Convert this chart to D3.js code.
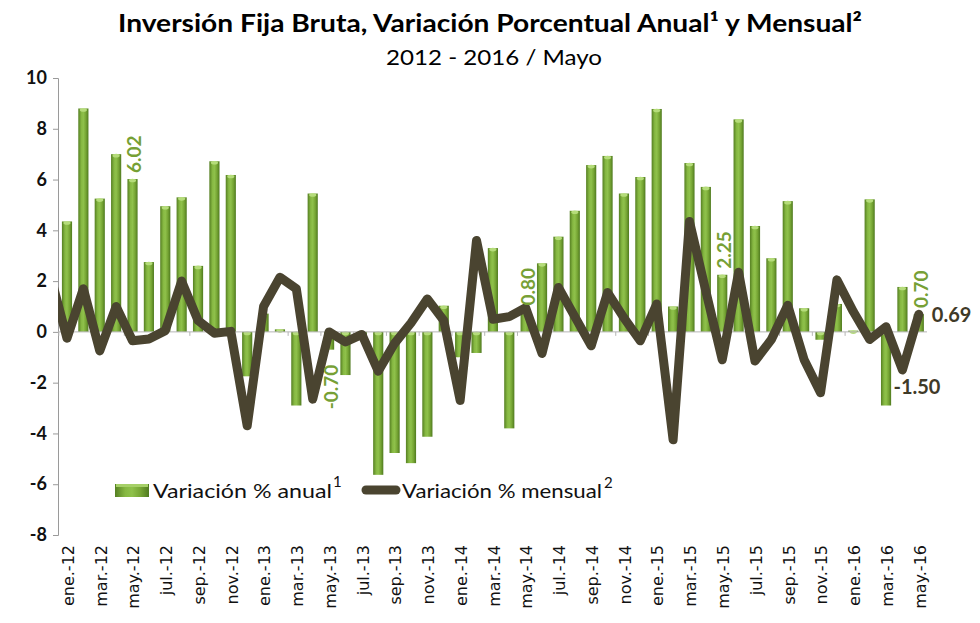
<!DOCTYPE html>
<html>
<head>
<meta charset="utf-8">
<script src="https://cdn.jsdelivr.net/npm/d3@7"></script>
<style>
  body { margin: 0; background: #fff; }
  svg { display: block; }
</style>
</head>
<body>
<svg id="chart"></svg>
<script>
// categorías (mes.-año)
const categorias = [
  "ene.-12","feb.-12","mar.-12","abr.-12","may.-12","jun.-12","jul.-12","ago.-12","sep.-12","oct.-12","nov.-12","dic.-12",
  "ene.-13","feb.-13","mar.-13","abr.-13","may.-13","jun.-13","jul.-13","ago.-13","sep.-13","oct.-13","nov.-13","dic.-13",
  "ene.-14","feb.-14","mar.-14","abr.-14","may.-14","jun.-14","jul.-14","ago.-14","sep.-14","oct.-14","nov.-14","dic.-14",
  "ene.-15","feb.-15","mar.-15","abr.-15","may.-15","jun.-15","jul.-15","ago.-15","sep.-15","oct.-15","nov.-15","dic.-15",
  "ene.-16","feb.-16","mar.-16","abr.-16","may.-16"
];

// variación % anual (barras)
const anual = [
  4.35, 8.80, 5.25, 7.00, 6.02, 2.75, 4.95, 5.30, 2.60, 6.72, 6.18, -1.75,
  0.72, 0.10, -2.90, 5.45, -0.70, -1.70, -0.30, -5.63, -4.77, -5.17, -4.13, 1.03,
  -1.00, -0.83, 3.30, -3.80, 0.80, 2.70, 3.75, 4.77, 6.57, 6.93, 5.45, 6.10,
  8.78, 1.00, 6.65, 5.71, 2.25, 8.37, 4.17, 2.90, 5.15, 0.93, -0.31, 1.10,
  0.05, 5.22, -2.90, 1.77, 0.70
];

// variación % mensual (línea)
const mensual = [
  -0.25, 1.70, -0.75, 1.00, -0.35, -0.28, 0.05, 2.00, 0.45, -0.05, 0.02, -3.70,
  1.00, 2.15, 1.70, -2.65, 0.00, -0.40, -0.10, -1.55, -0.45, 0.35, 1.30, 0.45,
  -2.70, 3.60, 0.50, 0.60, 0.95, -0.85, 1.75, 0.60, -0.55, 1.55, 0.55, -0.35,
  1.10, -4.25, 4.35, 1.60, -1.10, 2.35, -1.15, -0.30, 1.05, -1.10, -2.40, 2.05,
  0.80, -0.30, 0.20, -1.50, 0.69
];
const mensualPrevio = 2.2; // dic.-11, sólo asoma en el borde izquierdo

const yTicks = [-8, -6, -4, -2, 0, 2, 4, 6, 8, 10];
const etiquetasAnual = ["may.-12", "may.-13", "may.-14", "may.-15", "may.-16"];
const etiquetasMensual = ["abr.-16", "may.-16"];

const W = 980, H = 623;
const verde = "#76a035", oscuro = "#4a4430";

const svg = d3.select("#chart").attr("width", W).attr("height", H);
svg.append("rect").attr("width", W).attr("height", H).attr("fill", "#fff");

const x = d3.scaleBand().domain(categorias).range([58.8, 927])
  .paddingInner(0.38).paddingOuter(0.19);
const y = d3.scaleLinear().domain([-8, 10]).range([535, 78]);
const bw = x.bandwidth();
const cx = c => x(c) + bw / 2;

const defs = svg.append("defs");
const grad = defs.append("linearGradient").attr("id", "barra")
  .attr("x1", 0).attr("x2", 1).attr("y1", 0).attr("y2", 0);
[["0%", "#557f22"], ["30%", "#86b842"], ["50%", "#8fc14b"], ["75%", "#76a534"], ["100%", "#4f7a1f"]]
  .forEach(([o, c]) => grad.append("stop").attr("offset", o).attr("stop-color", c));
defs.append("clipPath").attr("id", "plot")
  .append("rect").attr("x", 58).attr("y", 0).attr("width", W - 58).attr("height", H);

// títulos
svg.append("text").attr("x", 490).attr("y", 32).attr("text-anchor", "middle")
  .attr("font-family", "Lato").attr("font-weight", "bold").attr("font-size", 24)
  .attr("textLength", 744).attr("lengthAdjust", "spacingAndGlyphs")
  .text("Inversión Fija Bruta, Variación Porcentual Anual¹ y Mensual²");
svg.append("text").attr("x", 494).attr("y", 65).attr("text-anchor", "middle")
  .attr("font-family", "Lato").attr("font-size", 22)
  .attr("textLength", 216).attr("lengthAdjust", "spacingAndGlyphs")
  .text("2012 - 2016 / Mayo");

// eje y
const gy = svg.append("g").attr("transform", "translate(58,0)")
  .call(d3.axisLeft(y).tickValues(yTicks).tickSize(5).tickPadding(6).tickFormat(d => String(d)));
gy.select(".domain").attr("stroke", "#9a9a9a");
gy.selectAll(".tick line").attr("stroke", "#9a9a9a");
gy.selectAll(".tick text").attr("font-family", "Lato").attr("font-weight", "bold")
  .attr("font-size", 18).attr("fill", "#111");

// barras
const gb = svg.append("g");
gb.selectAll("rect").data(anual).join("rect")
  .attr("x", (d, i) => x(categorias[i]))
  .attr("y", d => y(Math.max(0, d)))
  .attr("width", bw)
  .attr("height", d => Math.abs(y(d) - y(0)))
  .attr("fill", "url(#barra)");
gb.selectAll("ellipse").data(anual).join("ellipse")
  .attr("cx", (d, i) => cx(categorias[i]))
  .attr("cy", d => y(Math.max(0, d)) + 1.5)
  .attr("rx", bw / 2 - 1.5).attr("ry", 1.8)
  .attr("fill", "#b5dc7a");

// eje x en cero
svg.append("line").attr("x1", 58).attr("x2", 927).attr("y1", y(0)).attr("y2", y(0))
  .attr("stroke", "#b5b5b5").attr("stroke-width", 1);
svg.append("g").selectAll("line")
  .data(categorias.filter((c, i) => i % 2 === 0))
  .join("line")
  .attr("x1", c => x(c) - x.step() * x.paddingInner() / 2)
  .attr("x2", c => x(c) - x.step() * x.paddingInner() / 2)
  .attr("y1", y(0)).attr("y2", y(0) + 4)
  .attr("stroke", "#b5b5b5");

// línea mensual
const puntos = [[cx(categorias[0]) - x.step(), mensualPrevio]]
  .concat(mensual.map((v, i) => [cx(categorias[i]), v]));
svg.append("path").datum(puntos)
  .attr("clip-path", "url(#plot)")
  .attr("d", d3.line().x(d => d[0]).y(d => y(d[1])))
  .attr("fill", "none").attr("stroke", oscuro).attr("stroke-width", 9)
  .attr("stroke-linejoin", "round").attr("stroke-linecap", "round");

// etiquetas de datos
const idx = c => categorias.indexOf(c);
svg.append("g").selectAll("text").data(etiquetasAnual).join("text")
  .attr("transform", c => {
    const v = anual[idx(c)];
    const ty = v >= 0 ? y(v) - 6 : y(v) + 15;
    return `translate(${cx(c) + 2},${ty}) rotate(-90)`;
  })
  .attr("text-anchor", c => anual[idx(c)] >= 0 ? "start" : "end")
  .attr("dy", "0.36em")
  .attr("font-family", "Lato").attr("font-weight", "bold").attr("font-size", 19)
  .attr("fill", verde)
  .text(c => anual[idx(c)].toFixed(2));

svg.append("g").selectAll("text").data(etiquetasMensual).join("text")
  .attr("x", c => mensual[idx(c)] < 0 ? cx(c) - 9 : cx(c) + 13)
  .attr("y", c => mensual[idx(c)] < 0 ? y(mensual[idx(c)]) + 24 : y(mensual[idx(c)]) + 8)
  .attr("font-family", "Lato").attr("font-weight", "bold").attr("font-size", 20)
  .attr("fill", "#3f3a28")
  .text(c => mensual[idx(c)].toFixed(2));

// etiquetas del eje x
svg.append("g").selectAll("text")
  .data(categorias.filter((c, i) => i % 2 === 0))
  .join("text")
  .attr("transform", c => `translate(${cx(c) + 1},545) rotate(-90)`)
  .attr("text-anchor", "end").attr("dy", "0.36em")
  .attr("font-family", "DejaVu Sans").attr("font-size", 16).attr("fill", "#111")
  .text(c => c);

// leyenda
const lg = svg.append("g");
lg.append("rect").attr("x", 115).attr("y", 484).attr("width", 34).attr("height", 13)
  .attr("fill", "url(#barra)");
lg.append("rect").attr("x", 116).attr("y", 484).attr("width", 32).attr("height", 3)
  .attr("fill", "#a6d068");
const t1 = lg.append("text").attr("x", 153).attr("y", 498)
  .attr("font-family", "Lato").attr("font-size", 19).attr("fill", "#111");
t1.append("tspan").attr("textLength", 179).attr("lengthAdjust", "spacingAndGlyphs").text("Variación % anual");
t1.append("tspan").attr("dx", 1).attr("dy", -11).attr("font-size", 15).text("1");
lg.append("line").attr("x1", 366).attr("x2", 396).attr("y1", 490).attr("y2", 490)
  .attr("stroke", oscuro).attr("stroke-width", 9).attr("stroke-linecap", "round");
const t2 = lg.append("text").attr("x", 402).attr("y", 498)
  .attr("font-family", "Lato").attr("font-size", 19).attr("fill", "#111");
t2.append("tspan").attr("textLength", 200).attr("lengthAdjust", "spacingAndGlyphs").text("Variación % mensual");
t2.append("tspan").attr("dx", 2).attr("dy", -10).attr("font-size", 15).text("2");
</script>
</body>
</html>
